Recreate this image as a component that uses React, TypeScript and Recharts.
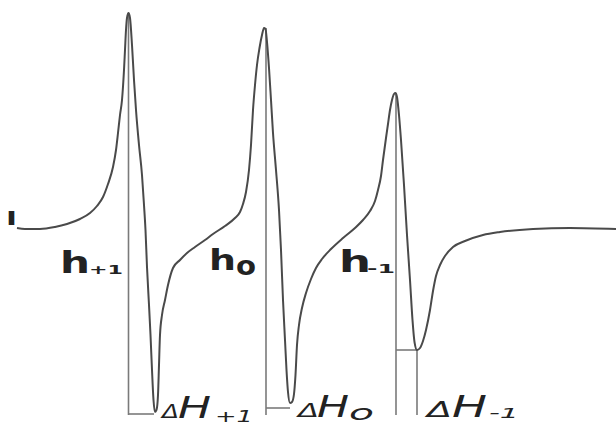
import { LineChart, Line, XAxis, YAxis, ReferenceLine, ReferenceDot } from "recharts";

// magnetic field (arbitrary units) and first-derivative EPR signal
const field = [
  17, 25, 40, 55, 67, 80, 90, 97, 103, 108, 113, 116, 118, 120, 122, 124, 125, 126, 127, 128.5,
  130, 132, 134, 136, 139, 142, 144, 145.5, 147, 149, 150.5, 152, 153.5, 155, 156.5, 158, 159, 160, 162, 165,
  168, 173, 180, 187, 195, 205, 213, 225, 235, 240, 243, 246, 249, 251, 253, 255, 257, 259.5, 262, 264,
  265.5, 267, 269, 271, 273, 276, 279, 281, 283, 285, 286.5, 288, 290, 292, 294, 295.5, 297, 299, 302, 306,
  311, 316, 322, 331, 343, 355, 363, 370, 375, 378, 381, 383, 386, 388, 390, 392, 394, 395.5, 397, 399,
  401, 404, 407, 410, 412.5, 414.5, 417, 420, 423, 426, 430, 433, 436, 440, 445, 453, 465, 483, 500, 533,
  570, 616,
];
const signal = [
  0, -1, -1, 1, 4, 9, 15, 22, 31, 44, 61, 78, 95, 113, 128, 158, 178, 198, 210, 215,
  210, 183, 148, 118, 83, 53, 23, -2, -39, -77, -107, -142, -172, -184, -182, -167, -137, -107, -87, -72,
  -57, -40, -32, -25, -19, -12, -6, 2, 10, 16, 24, 36, 58, 83, 118, 143, 163, 180, 193, 200,
  199, 186, 160, 128, 95, 58, 18, -22, -72, -112, -142, -164, -175, -174, -166, -147, -117, -97, -80, -65,
  -51, -40, -31, -21, -10, 0, 8, 17, 27, 38, 52, 68, 90, 104, 118, 128, 134, 135, 131, 113,
  88, 43, -7, -52, -92, -114, -122, -120, -113, -102, -82, -63, -48, -37, -28, -19, -13, -7, -4, -1,
  0, -1,
];

const data = field.map((f, i) => ({ field: f, signal: signal[i] }));

type Part = { t: string; dx: number; dy?: number; w: number; size: number; bold?: boolean; italic?: boolean };

function Tag(props: any) {
  const { viewBox, parts } = props;
  const x = viewBox?.x ?? 0;
  const y = viewBox?.y ?? 0;
  return (
    <g>
      {(parts as Part[]).map((p, i) => (
        <text
          key={i}
          x={x + p.dx}
          y={y + (p.dy ?? 0)}
          fontSize={p.size}
          fontWeight={p.bold ? 700 : 400}
          fontStyle={p.italic ? "italic" : "normal"}
          fontFamily="DejaVu Sans"
          textLength={p.w}
          lengthAdjust="spacingAndGlyphs"
          fill="#222"
        >
          {p.t}
        </text>
      ))}
    </g>
  );
}

const lineColor = "#7a7a7a";

export default function App() {
  return (
    <div style={{ position: "absolute", left: 0, top: 0, background: "#fff" }}>
      <LineChart width={616} height={428} data={data} margin={{ top: 0, right: 0, bottom: 0, left: 0 }}>
        <XAxis type="number" dataKey="field" domain={[0, 616]} hide />
        <YAxis type="number" domain={[-200, 228]} hide />

        <ReferenceLine segment={[{ x: 128.5, y: 215 }, { x: 128.5, y: -187 }]} stroke={lineColor} strokeWidth={1.6} />
        <ReferenceLine segment={[{ x: 128.5, y: -186 }, { x: 154, y: -186 }]} stroke={lineColor} strokeWidth={1.6} />
        <ReferenceLine segment={[{ x: 266, y: 200 }, { x: 266, y: -187 }]} stroke={lineColor} strokeWidth={1.6} />
        <ReferenceLine segment={[{ x: 266, y: -180 }, { x: 290, y: -180 }]} stroke={lineColor} strokeWidth={1.6} />
        <ReferenceLine segment={[{ x: 396, y: 135 }, { x: 396, y: -187 }]} stroke={lineColor} strokeWidth={1.6} />
        <ReferenceLine segment={[{ x: 417, y: -122 }, { x: 417, y: -187 }]} stroke={lineColor} strokeWidth={1.6} />
        <ReferenceLine segment={[{ x: 396, y: -122 }, { x: 417, y: -122 }]} stroke={lineColor} strokeWidth={1.6} />

        <Line
          type="monotone"
          dataKey="signal"
          stroke="#4a4a4a"
          strokeWidth={2}
          dot={false}
          activeDot={false}
          isAnimationActive={false}
        />

        <ReferenceDot x={6} y={3} r={0} stroke="none" fill="none"
          label={<Tag parts={[{ t: "I", dx: 0, w: 11, size: 20, bold: true }]} />} />
        <ReferenceDot x={63} y={-45} r={0} stroke="none" fill="none"
          label={<Tag parts={[
            { t: "h", dx: -3, w: 30, size: 30, bold: true },
            { t: "+1", dx: 26, dy: 1, w: 34, size: 12, bold: true },
          ]} />} />
        <ReferenceDot x={212} y={-42} r={0} stroke="none" fill="none"
          label={<Tag parts={[
            { t: "h", dx: -3, w: 27, size: 29, bold: true },
            { t: "o", dx: 24, dy: 5, w: 20, size: 26, bold: true },
          ]} />} />
        <ReferenceDot x={342} y={-44} r={0} stroke="none" fill="none"
          label={<Tag parts={[
            { t: "h", dx: -3, w: 32, size: 30, bold: true },
            { t: "-1", dx: 25, dy: 1, w: 28, size: 12, bold: true },
          ]} />} />
        <ReferenceDot x={162} y={-190} r={0} stroke="none" fill="none"
          label={<Tag parts={[
            { t: "Δ", dx: 0, w: 17, size: 20, italic: true },
            { t: "H", dx: 16, w: 33, size: 31, italic: true },
            { t: "+1", dx: 53, dy: 4, w: 38, size: 16, italic: true },
          ]} />} />
        <ReferenceDot x={298} y={-189} r={0} stroke="none" fill="none"
          label={<Tag parts={[
            { t: "Δ", dx: 0, w: 21, size: 20, italic: true },
            { t: "H", dx: 19, w: 32, size: 31, italic: true },
            { t: "o", dx: 51, dy: 3, w: 25, size: 22, italic: true },
          ]} />} />
        <ReferenceDot x={427} y={-189} r={0} stroke="none" fill="none"
          label={<Tag parts={[
            { t: "Δ", dx: 0, w: 25, size: 21, italic: true },
            { t: "H", dx: 25, w: 35, size: 31, italic: true },
            { t: "-1", dx: 62, dy: 1, w: 30, size: 14, italic: true },
          ]} />} />
      </LineChart>
    </div>
  );
}
